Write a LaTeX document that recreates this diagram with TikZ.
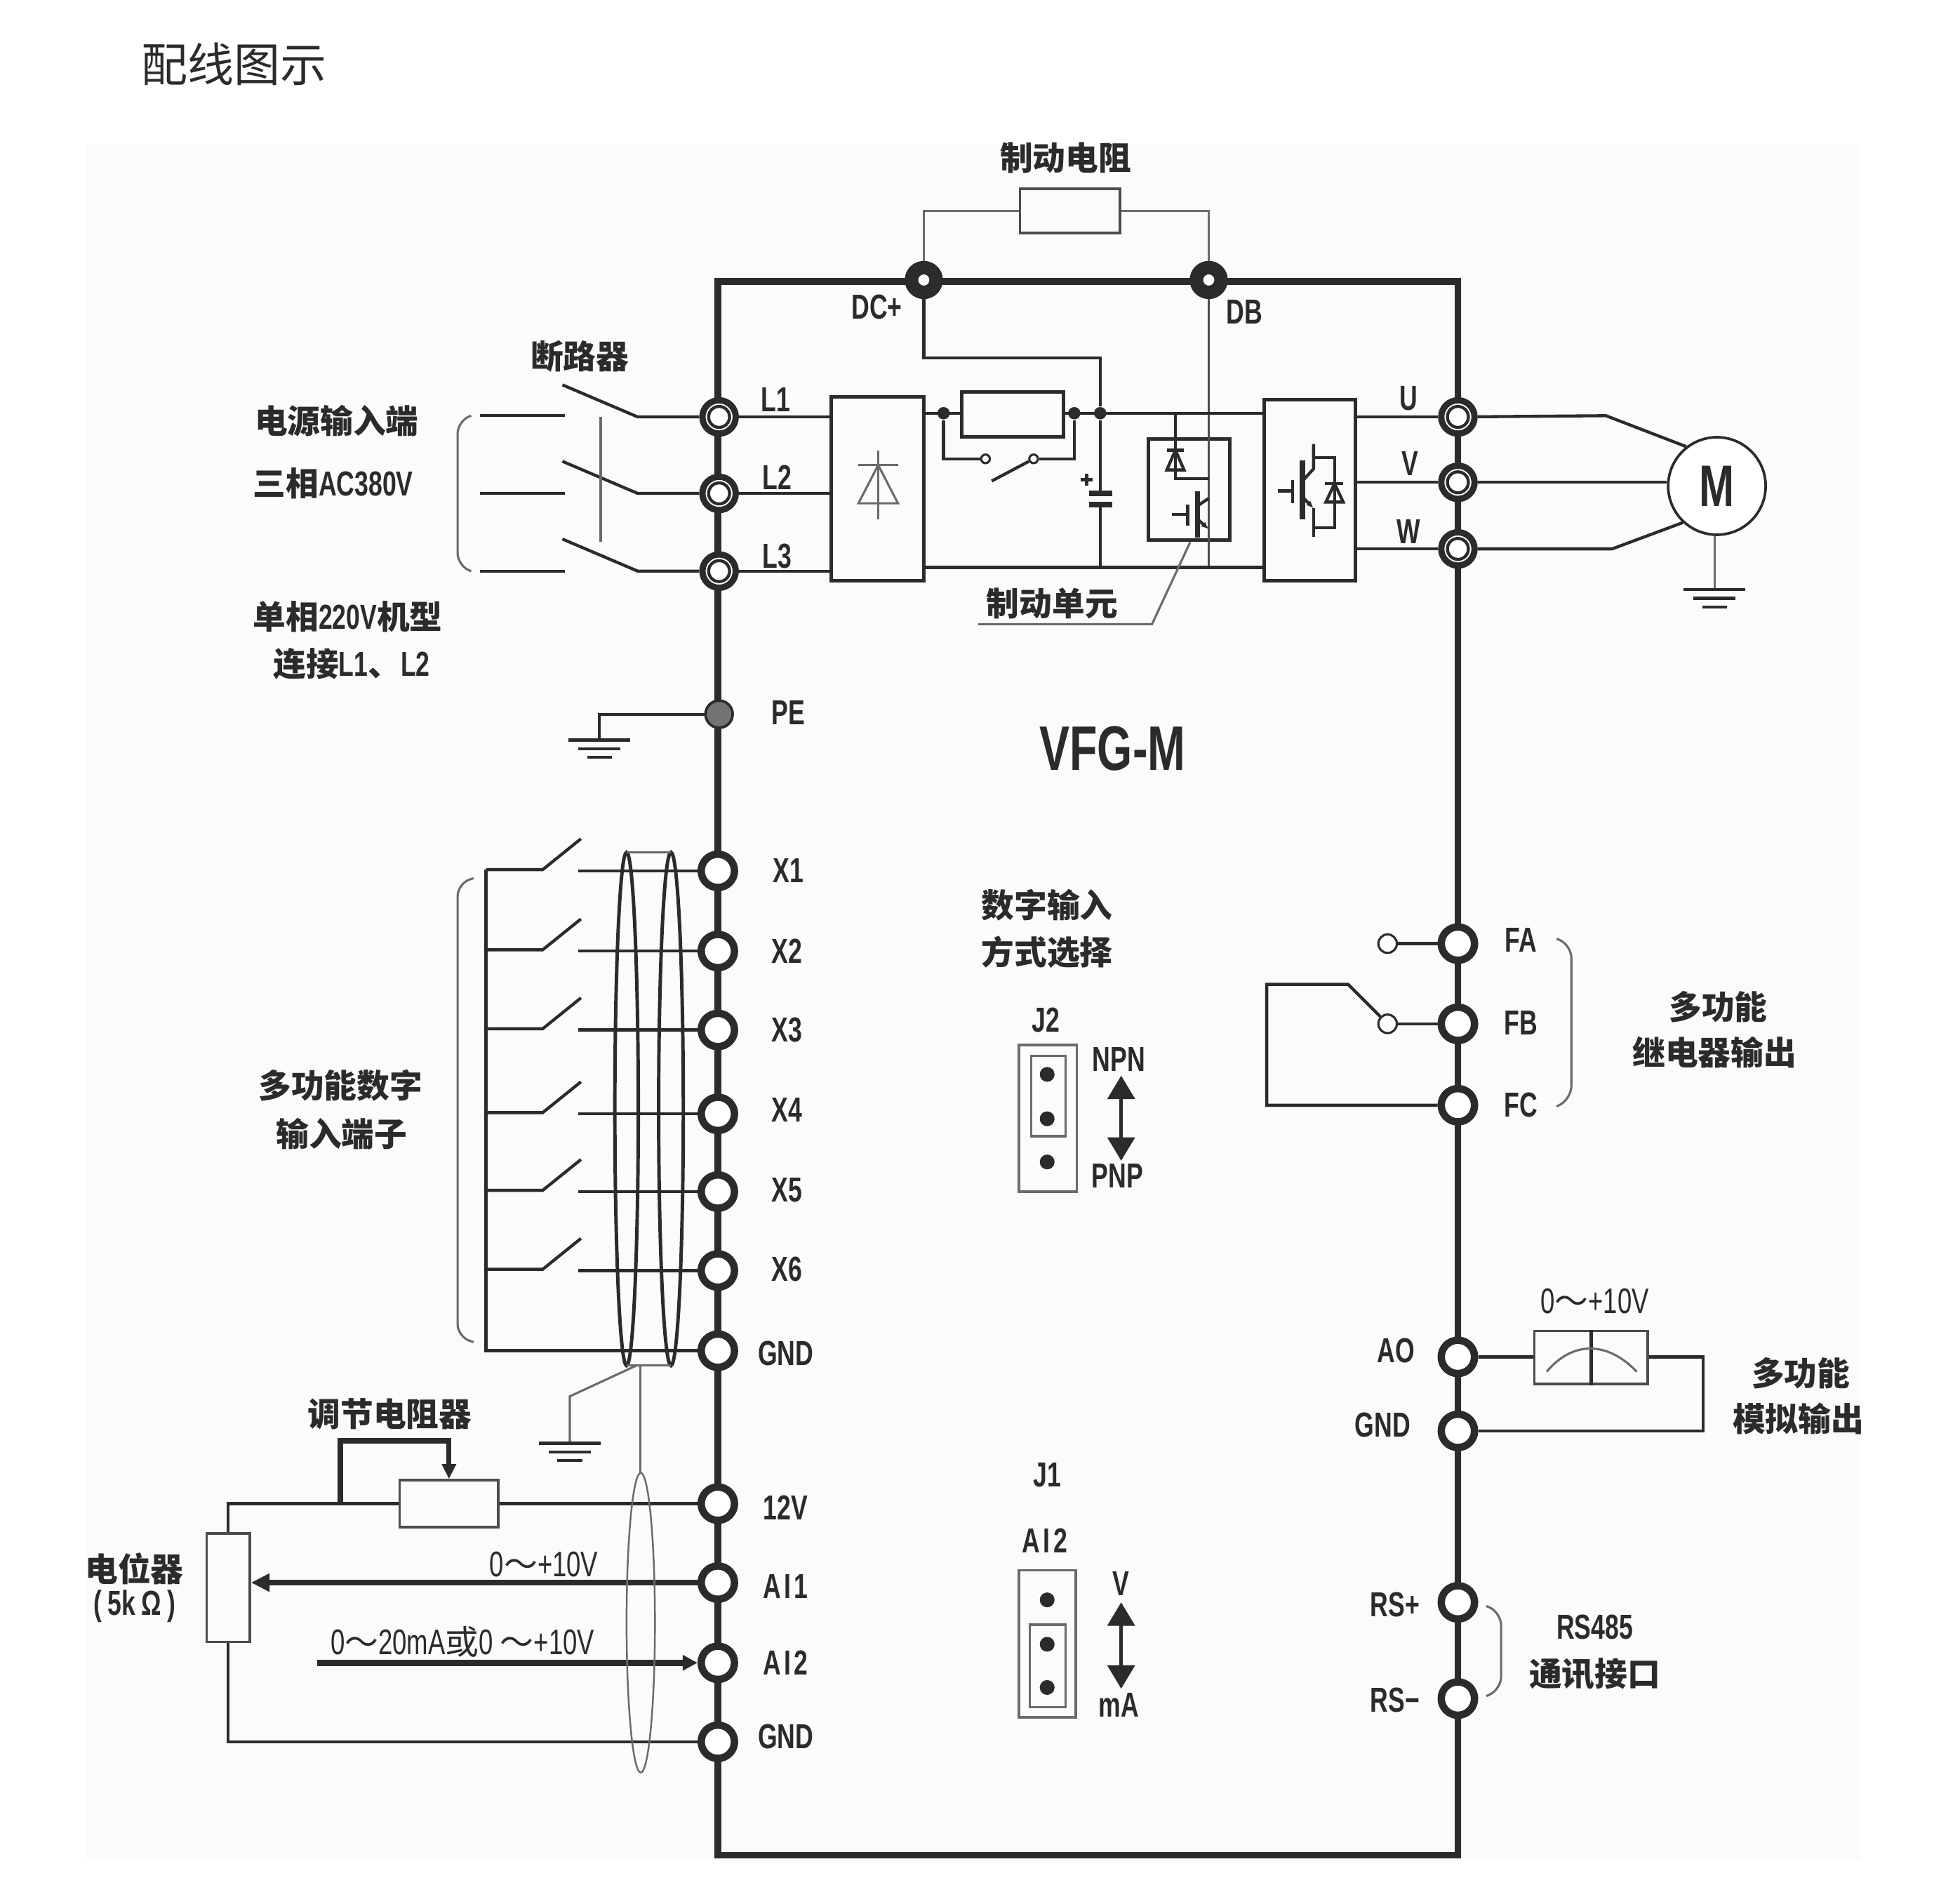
\documentclass[tikz,border=0pt]{standalone}
\usepackage{fontspec}
\usetikzlibrary{arrows.meta}
\newfontfamily\cjkb[Scale=0.945]{Noto Sans CJK SC}
\newfontfamily\latb[FakeStretch=0.72]{Liberation Sans}
\newcommand{\zh}[1]{{\cjkb\bfseries #1}}
\newcommand{\zr}[1]{{\cjkb #1}}
\newcommand{\wide}[1]{{\addfontfeature{LetterSpace=9}#1}}
\newcommand{\earth}[1]{
	\draw[wire] (#1) ++(-25,0) -- ++(50,0);
	\draw[wire] (#1) ++(-17,7) -- ++(34,0);
	\draw[wire] (#1) ++(-10,14) -- ++(20,0);
}
\definecolor{ink}{HTML}{2B2B2B}
\definecolor{soft}{HTML}{6A6A6A}
\tikzset{
	x=0.01cm, y=-0.01cm,
	frameline/.style={draw=ink, line width=1.6pt},
	wire/.style={draw=ink, line width=0.7pt},
	thinwire/.style={draw=soft, line width=0.5pt},
	fatwire/.style={draw=ink, line width=1.2pt},
	term/.style={circle, draw=ink, fill=white, line width=1.7pt, inner sep=0, minimum size=0.27cm},
	termd/.style={circle, draw=ink, fill=white, line width=1.45pt, inner sep=0, minimum size=0.27cm},
	termdc/.style={circle, draw=ink, fill=white, line width=3.1pt, inner sep=0, minimum size=0.2cm},
	dotj/.style={circle, fill=ink, inner sep=0, minimum size=0.1cm},
	pin/.style={circle, fill=ink, inner sep=0, minimum size=0.12cm},
	ctc/.style={circle, draw=ink, fill=white, line width=0.5pt, inner sep=0, minimum size=0.07cm},
	box/.style={draw=ink, line width=0.8pt, inner sep=0},
	boxs/.style={draw=black!70, line width=0.6pt, inner sep=0},
	lab/.style={inner sep=0, text=ink, font=\latb\bfseries\fontsize{8}{9}\selectfont},
	labr/.style={inner sep=0, text=ink, font=\latb\fontsize{8.2}{9}\selectfont},
}
\begin{document}
\begin{tikzpicture}
	\useasboundingbox (0,0) rectangle (1568,1543);
	\fill[white] (0,0) rectangle (1568,1543);
	\fill[black!1.5] (70,117) rectangle (1508,1508);
	\draw[frameline] (582,228) rectangle (1182,1504);
	
	% Set the terminals on the left and right sides
	\foreach \name/\xpos/\ypos in {X1/582/706,X2/582/771,X3/582/835,X4/582/903,X5/582/966,X6/582/1030,GNDa/582/1095,TV/582/1219,AIa/582/1283,AIb/582/1348,GNDb/582/1412,FA/1182/765,FB/1182/830,FC/1182/896,AO/1182/1100,GNDc/1182/1160,RSp/1182/1299,RSn/1182/1377}
	\node[term] (\name) at (\xpos,\ypos) {};
	\foreach \name/\xpos/\ypos in {L1/583/338,L2/583/400,L3/583/463,U/1182/338,V/1182/391,W/1182/445}
	{
		\node[termd] (\name) at (\xpos,\ypos) {};
		\draw[wire] (\name) circle (8.5);
	}
	\node[termdc] (DCp) at (749,227) {};
	\node[termdc] (DB) at (980,227) {};
	\node[circle, draw=ink, fill=black!55, line width=0.6pt, inner sep=0, minimum size=0.22cm] (PE) at (583,579) {};
	
	% Set the boxes of the power part
	\node[boxs, minimum width=0.81cm, minimum height=0.36cm] (brk) at (867.5,171) {};
	\node[box, minimum width=0.75cm, minimum height=1.49cm] (bridge) at (711.5,396.5) {};
	\node[box, minimum width=0.74cm, minimum height=1.47cm] (inv) at (1062,397.5) {};
	\node[box, minimum width=0.82cm, minimum height=0.36cm] (inrush) at (821,336) {};
	\node[box, minimum width=0.66cm, minimum height=0.82cm] (unit) at (964,397) {};
	\node[dotj] (dotA) at (765,335) {};
	\node[dotj] (dotB) at (871,335) {};
	\node[dotj] (dotC) at (892,335) {};
	\node[ctc] (swA) at (799,372) {};
	\node[ctc] (swB) at (838,372) {};
	\coordinate (busN) at (892,460);
	\coordinate (dcTurn) at (749,290);
	\coordinate (dbEnd) at (980,460);
	
	% Connect the power part
	\draw[thinwire] (DCp) |- (brk.west);
	\draw[thinwire] (brk.east) -| (DB);
	\draw[wire] (DCp) -- (dcTurn) -| (dotC);
	\draw[draw=black!70, line width=0.6pt] (DB) -- (dbEnd);
	\foreach \name in {L1,L2,L3}
	\draw[wire] (\name) -- (bridge.west |- \name);
	\foreach \name in {U,V,W}
	\draw[wire] (\name) -- (inv.east |- \name);
	\draw[wire] (bridge.east |- dotA) -- (inrush.west |- dotA);
	\draw[wire] (inrush.east |- dotA) -- (inv.west |- dotA);
	\draw[wire] (bridge.east |- busN) -- (inv.west |- busN);
	\draw[wire] (dotA) |- (swA);
	\draw[wire] (dotB) |- (swB);
	\draw[wire] (swB) -- (804,390);
	
	% Capacitor
	\coordinate (capT) at (892,400);
	\coordinate (capB) at (892,409);
	\draw[wire] (dotC) -- (capT);
	\draw[wire] (capB) -- (busN);
	\draw[fatwire] (883,400) -- (902,400);
	\draw[fatwire] (883,409) -- (902,409);
	\draw[draw=ink, line width=0.8pt] (876,389) -- (886,389) (881,384) -- (881,394);
	
	% Rectifier symbol
	\draw[thinwire] (712,365) -- (712,421);
	\draw[thinwire] (712,377) -- (696,408) -- (728,408) -- cycle;
	\draw[thinwire] (696,377) -- (728,377);
	
	% Brake unit symbols
	\draw[wire] (953,335) -- (953,388) -- (980,388);
	\draw[wire] (946,365) -- (960,365);
	\draw[wire] (953,365) -- (946,381) -- (960,381) -- cycle;
	\draw[fatwire] (971,398) -- (971,436);
	\draw[wire] (980,404) -- (971,410);
	\draw[wire, -{Latex[length=0.06cm,width=0.05cm]}] (971,421) -- (980,429);
	\draw[wire] (963,409) -- (963,426);
	\draw[wire] (950,417) -- (963,417);
	
	% Inverter symbols
	\draw[wire] (1048,389) -- (1048,408);
	\draw[wire] (1036,398) -- (1048,398);
	\draw[fatwire] (1056,373) -- (1056,421);
	\draw[wire] (1065,360) -- (1065,380) -- (1056,390);
	\draw[wire, -{Latex[length=0.06cm,width=0.05cm]}] (1056,403) -- (1065,412);
	\draw[wire] (1065,412) -- (1065,435);
	\draw[wire] (1065,371) -- (1082,371) -- (1082,428) -- (1065,428);
	\draw[wire] (1074,392) -- (1089,392);
	\draw[wire] (1082,392) -- (1075,407) -- (1089,407) -- cycle;
	
	% Brake unit pointer
	\coordinate (ptrA) at (793,506);
	\coordinate (ptrB) at (934,506);
	\draw[thinwire] (ptrA) -- (ptrB) -- (unit.south -| 965,0);
	
	% Breaker on the left
	\foreach \name/\ypos in {L1/338,L2/400,L3/463}
	\draw[wire] (\name) -- (517,\ypos) -- (456,\ypos-26);
	\foreach \ypos in {337,400,463}
	\draw[wire] (389,\ypos) -- (458,\ypos);
	\draw[thinwire] (487,338) -- (487,439);
	\draw[thinwire, rounded corners=3pt] (382,337) -- (371,341) -- (371,459) -- (382,463);
	
	% Ground of PE
	\coordinate (gndPE) at (486,600);
	\draw[wire] (PE) -| (gndPE);
	\earth{gndPE}
	
	% Motor
	\node[circle, draw=ink, fill=white, line width=0.6pt, inner sep=0, minimum size=0.79cm, font=\latb\bfseries\fontsize{13.5}{14}\selectfont, text=ink] (M) at (1392,394) {M};
	\coordinate (bendU) at (1302,337);
	\coordinate (bendW) at (1307,445);
	\coordinate (gndM) at (1390,478);
	\draw[wire] (U) -- (bendU) -- (M.128);
	\draw[wire] (V) -- (M.west |- V);
	\draw[wire] (W) -- (bendW) -- (M.227);
	\draw[thinwire] (M.south -| gndM) -- (gndM);
	\earth{gndM}
	
	% Connect the digital inputs with their switches
	\foreach \name/\ypos in {X1/706,X2/771,X3/835,X4/903,X5/966,X6/1030}
	{
		\coordinate (bus\name) at (394,\ypos-1);
		\coordinate (pin\name) at (469,\ypos);
		\draw[wire] (bus\name) -- ++(46,0) -- ++(31,-25);
		\draw[wire] (pin\name) -- (\name);
	}
	\draw[wire, line width=0.85pt] (GNDa) -| (busX1);
	\draw[thinwire, rounded corners=3pt] (384,712) -- (371,716) -- (371,1084) -- (384,1088);
	
	% Shielded cable of the digital inputs
	\draw[wire, line width=0.8pt] (508,899) ellipse [x radius=9.5, y radius=208];
	\draw[wire, line width=0.8pt] (544,899) ellipse [x radius=10, y radius=208];
	\draw[thinwire] (508,691) -- (544,691);
	\draw[thinwire] (508,1107) -- (544,1107);
	\coordinate (cabA) at (516,1107);
	\coordinate (cabB) at (519,1107);
	\coordinate (gndTurn) at (462,1132);
	\coordinate (gndC) at (462,1170);
	\coordinate (ellT) at (519,1194);
	\draw[thinwire] (cabA) -- (gndTurn) -- (gndC);
	\draw[thinwire] (cabB) -- (ellT);
	\earth{gndC}
	
	% Analog inputs
	\node[boxs, minimum width=0.8cm, minimum height=0.38cm] (rheo) at (364,1219) {};
	\node[boxs, minimum width=0.35cm, minimum height=0.88cm] (pot) at (185,1287) {};
	\coordinate (tap) at (276,1219);
	\coordinate (loop) at (276,1168);
	\coordinate (srcB) at (257,1348);
	\draw[wire] (TV) -- (rheo.east |- TV);
	\draw[wire] (rheo.west |- TV) -| (pot.north);
	\draw[fatwire, -{Triangle[length=0.12cm,width=0.11cm]}] (tap) -- (loop) -| (rheo.north);
	\draw[fatwire, -{Triangle[length=0.15cm,width=0.14cm]}] (AIa) -- (pot.east |- AIa);
	\draw[fatwire, line width=1.5pt, -{Triangle[length=0.12cm,width=0.12cm]}] (srcB) -- (AIb);
	\draw[wire] (pot.south) |- (GNDb);
	\draw[draw=soft, line width=0.4pt] (519.5,1315.5) ellipse [x radius=11.5, y radius=121.5];
	
	% Relay output
	\node[ctc, minimum size=0.15cm] (ctcA) at (1125,765) {};
	\node[ctc, minimum size=0.15cm] (ctcB) at (1125,830) {};
	\coordinate (relayA) at (1027,798);
	\coordinate (relayB) at (1093,798);
	\draw[wire] (ctcA) -- (FA);
	\draw[wire] (ctcB) -- (FB);
	\draw[wire] (FC) -| (relayA) -- (relayB) -- (ctcB);
	\draw[thinwire, rounded corners=3pt] (1262,761) -- (1274,766) -- (1274,891) -- (1262,897);
	
	% Analog output
	\node[boxs, minimum width=0.92cm, minimum height=0.43cm] (meter) at (1290,1100.5) {};
	\coordinate (meterR) at (1381,1160);
	\draw[wire] (AO) -- (meter.west |- AO);
	\draw[wire] (meter.east |- AO) -| (meterR) -- (GNDc);
	\draw[wire] (meter.north) -- (meter.south);
	\draw[thinwire] (1254,1112) .. controls (1275,1087) and (1303,1087) .. (1327,1112);
	\draw[thinwire, rounded corners=3pt] (1205,1302) -- (1217,1307) -- (1217,1370) -- (1205,1375);
	
	% Jumpers
	\node[draw=soft, line width=0.6pt, minimum width=0.47cm, minimum height=1.19cm, inner sep=0] (Jtwo) at (849.5,906.5) {};
	\node[draw=soft, line width=0.6pt, minimum width=0.28cm, minimum height=0.65cm, inner sep=0] (Jtwoin) at (850,888.5) {};
	\foreach \name/\ypos in {a/871,b/907,c/942}
	\node[pin] (pin2\name) at (849,\ypos) {};
	\node[draw=soft, line width=0.6pt, minimum width=0.46cm, minimum height=1.19cm, inner sep=0] (Jone) at (849,1332.5) {};
	\node[draw=soft, line width=0.6pt, minimum width=0.29cm, minimum height=0.67cm, inner sep=0] (Joneen) at (849.5,1350.5) {};
	\foreach \name/\ypos in {a/1297,b/1333,c/1368}
	\node[pin] (pin1\name) at (849,\ypos) {};
	\coordinate (arrTa) at (909,872);
	\coordinate (arrTb) at (909,941);
	\coordinate (arrOa) at (909,1299);
	\coordinate (arrOb) at (909,1369);
	\draw[wire, line width=0.8pt, {Triangle[length=0.19cm,width=0.22cm]}-{Triangle[length=0.19cm,width=0.22cm]}] (arrTa) -- (arrTb);
	\draw[wire, line width=0.8pt, {Triangle[length=0.19cm,width=0.22cm]}-{Triangle[length=0.19cm,width=0.22cm]}] (arrOa) -- (arrOb);
	
	% Texts
	\node[inner sep=0, text=ink, font=\fontsize{11.3}{12}\cjkb] (title) at (190,52) {配线图示};
	\node[inner sep=0, text=ink, font=\latb\bfseries\fontsize{14.5}{16}\selectfont] (model) at (902,607) {VFG-M};
	\foreach \name/\xpos/\ypos/\txt in {tBrk/864/128/\zh{制动电阻},tDC/711/249/DC+,tDB/1009/253/DB,tBreaker/470/289/\zh{断路器},tLa/629/324/L1,tLb/630/387/L2,tLc/630/451/L3,tU/1142/323/U,tV/1143/376/V,tW/1142/431/W,tIn/273/341/\zh{电源输入端},tPhase/270/392/\zh{三相}AC380V,tSingle/282/500/\zh{单相}220V\zh{机型},tConn/285/538/\zh{连接}L1\zh{、}L2,tUnit/853/489/\zh{制动单元},tPE/639/578/PE,tXa/639/706/X1,tXb/638/771/X2,tXc/638/835/X3,tXd/638/900/X4,tXe/638/965/X5,tXf/638/1029/X6,tGa/637/1097/GND,tTV/637/1222/12V,tAa/637/1286/\wide{AI1},tAb/637/1348/\wide{AI2},tGb/637/1408/GND,tDi/276/880/\zh{多功能数字},tDj/277/919/\zh{输入端子},tSel/849/734/\zh{数字输入},tSem/849/772/\zh{方式选择},tJb/848/827/J2,tNPN/907/859/NPN,tPNP/906/953/PNP,tJa/849/1196/J1,tAI/847/1249/\wide{AI2},tVv/909/1284/V,tmA/907/1382/mA,tFA/1233/762/FA,tFB/1233/829/FB,tFC/1233/896/FC,tRa/1393/816/\zh{多功能},tRb/1390/853/\zh{继电器输出},tAO/1132/1095/AO,tGc/1121/1155/GND,tMa/1460/1113/\zh{多功能},tMb/1458/1150/\zh{模拟输出},tRSp/1131/1301/RS+,tRSn/1131/1378/RS−,tRSa/1293/1319/RS485,tRSb/1293/1357/\zh{通讯接口},tAdj/316/1146/\zh{调节电阻器},tPot/109/1272/\zh{电位器},tPotv/109/1302/(\,5k\,Ω\,)}
	\node[lab] (\name) at (\xpos,\ypos) {\txt};
	\foreach \name/\xpos/\ypos/\txt in {tVa/1293/1055/0\zr{～}+10V,tVb/441/1268/0\zr{～}+10V,tVc/375/1331/0\zr{～}20mA\zr{或}0 \zr{～}+10V}
	\node[labr] (\name) at (\xpos,\ypos) {\txt};
	
\end{tikzpicture}
\end{document}
